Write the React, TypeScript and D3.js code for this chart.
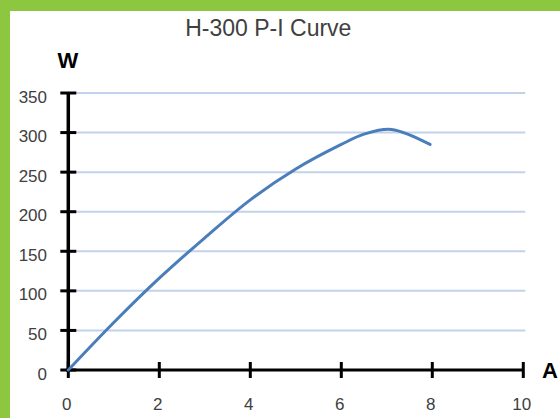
import React from "react";
import * as d3 from "d3";

// values
const current = [0, 1, 2, 3, 4, 5, 6, 6.5, 7.1, 7.95];
const power = [0, 60, 116, 167, 215, 254, 285, 298, 304, 285];
const xTicks = [0, 2, 4, 6, 8, 10];
const yTicks = [0, 50, 100, 150, 200, 250, 300, 350];

const W = 560;
const H = 418;
const FONT = "'Liberation Sans', Arial, sans-serif";

const App = () => {
  const x = d3.scaleLinear().domain([0, 10]).range([68.3, 523.3]);
  const y = d3.scaleLinear().domain([0, 350]).range([370, 93]);

  const points: [number, number][] = current.map((c, i) => [c, power[i]]);
  const line = d3
    .line<[number, number]>()
    .x((d) => x(d[0]))
    .y((d) => y(d[1]))
    .curve(d3.curveCatmullRom.alpha(0.5));

  return (
    <svg
      width={W}
      height={H}
      style={{ position: "absolute", left: 0, top: 0, background: "#fff" }}
      fontFamily={FONT}
    >
      {/* green frame */}
      <rect x={0} y={0} width={W} height={11} fill="#8dc63f" />
      <rect x={0} y={0} width={10} height={H} fill="#8dc63f" />

      <text x={268.3} y={36} textAnchor="middle" fontSize={23} fill="#404040">
        H-300 P-I Curve
      </text>
      <text x={68} y={68} textAnchor="middle" fontSize={22} fontWeight="bold" fill="#000">
        W
      </text>
      <text x={542} y={378} fontSize={22} fontWeight="bold" fill="#000">
        A
      </text>

      {/* gridlines */}
      {yTicks.filter((t) => t > 0).map((t) => (
        <line
          key={"g" + t}
          x1={x(0)}
          x2={x(10) + 2}
          y1={y(t)}
          y2={y(t)}
          stroke="#c3d2eb"
          strokeWidth={2}
        />
      ))}

      {/* y axis */}
      <line x1={x(0)} x2={x(0)} y1={y(350) - 1} y2={y(0) + 2} stroke="#000" strokeWidth={3.5} />
      {yTicks.map((t) => (
        <g key={"y" + t}>
          <line x1={x(0) - 8} x2={x(0) + 8} y1={y(t)} y2={y(t)} stroke="#000" strokeWidth={3} />
          <text
            x={47}
            y={y(t) + 4}
            textAnchor="end"
            dominantBaseline="central"
            fontSize={17}
            fill="#404040"
          >
            {t}
          </text>
        </g>
      ))}

      {/* x axis */}
      <line x1={x(0) - 2} x2={x(10)} y1={y(0)} y2={y(0)} stroke="#000" strokeWidth={3} />
      {xTicks.map((t) => (
        <g key={"x" + t}>
          <line x1={x(t)} x2={x(t)} y1={y(0) - 8} y2={y(0) + 8} stroke="#000" strokeWidth={3} />
          <text
            x={x(t) - 1.5}
            y={409.5}
            textAnchor="middle"
            fontSize={17}
            fill="#404040"
          >
            {t}
          </text>
        </g>
      ))}

      {/* curve */}
      <path
        d={line(points) || ""}
        fill="none"
        stroke="#4a7ebb"
        strokeWidth={3}
        strokeLinecap="round"
      />
    </svg>
  );
};

export default App;
